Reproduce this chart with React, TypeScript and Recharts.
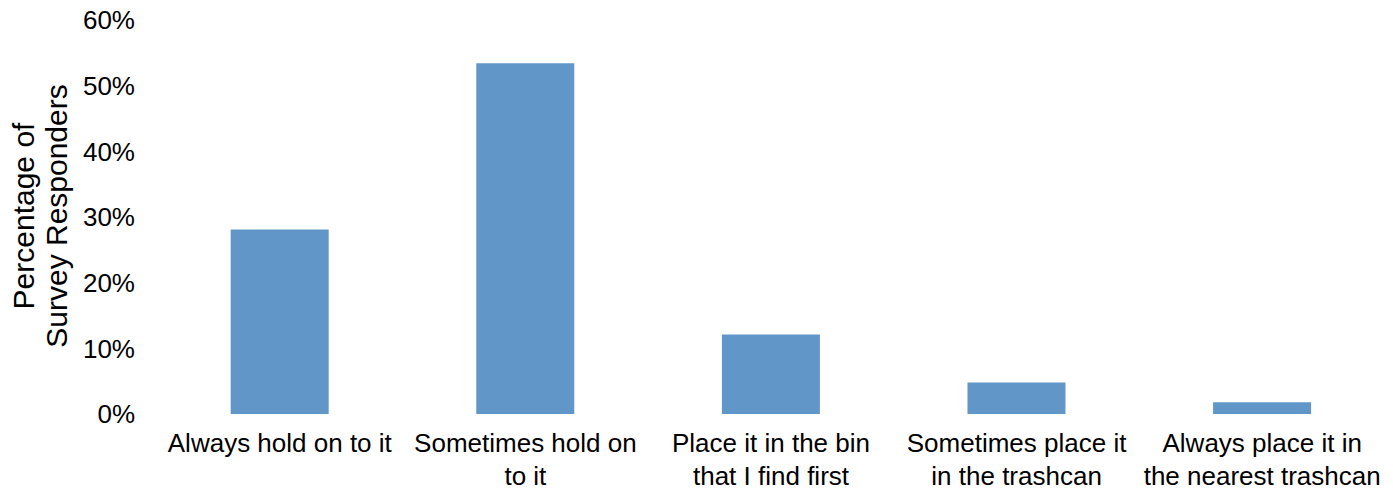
import { BarChart, Bar, XAxis, YAxis } from "recharts";

const CATEGORIES = [
  "Always hold on to it",
  "Sometimes hold on\nto it",
  "Place it in the bin\nthat I find first",
  "Sometimes place it\nin the trashcan",
  "Always place it in\nthe nearest trashcan",
];
const SHARES = [28.1, 53.4, 12.1, 4.8, 1.8];
const Y_TICKS = [0, 10, 20, 30, 40, 50, 60];
const Y_TITLE = ["Percentage of", "Survey Responders"];

const FONT = "'Liberation Sans', Arial, sans-serif";

const data = CATEGORIES.map((name, i) => ({ name, share: SHARES[i] }));

const CategoryTick = ({ x, y, payload }: any) => {
  const lines = String(payload.value).split("\n");
  return (
    <text
      x={x}
      y={y}
      textAnchor="middle"
      fontFamily={FONT}
      fontSize={26}
      fill="#000"
    >
      {lines.map((line, i) => (
        <tspan key={i} x={x} dy={i === 0 ? 30 : 33}>
          {line}
        </tspan>
      ))}
    </text>
  );
};

// two-line rotated axis title
const YTitle = ({ viewBox }: any) => {
  const cy = viewBox.y + viewBox.height / 2 - 1;
  const cx = 40;
  return (
    <text
      transform={`translate(${cx}, ${cy}) rotate(-90)`}
      textAnchor="middle"
      fontFamily={FONT}
      fontSize={30}
      fill="#000"
    >
      {Y_TITLE.map((line, i) => (
        <tspan key={i} x={0} y={i === 0 ? -6 : 27}>
          {line}
        </tspan>
      ))}
    </text>
  );
};

export default function App() {
  return (
    <div style={{ position: "fixed", top: 0, left: 0, background: "#fff" }}>
      <BarChart
        width={1393}
        height={490}
        data={data}
        margin={{ top: 20, right: 8, bottom: 0, left: 0 }}
        barCategoryGap="30%"
      >
        <XAxis
          dataKey="name"
          height={76}
          axisLine={false}
          tickLine={false}
          interval={0}
          tick={<CategoryTick />}
        />
        <YAxis
          width={157}
          domain={[0, 60]}
          ticks={Y_TICKS}
          axisLine={false}
          tickLine={false}
          tickMargin={16}
          tickFormatter={(v) => `${v}%`}
          tick={{ fontSize: 26, fontFamily: FONT, fill: "#000" }}
          label={<YTitle />}
        />
        <Bar dataKey="share" fill="#6196C8" isAnimationActive={false} />
      </BarChart>
    </div>
  );
}
